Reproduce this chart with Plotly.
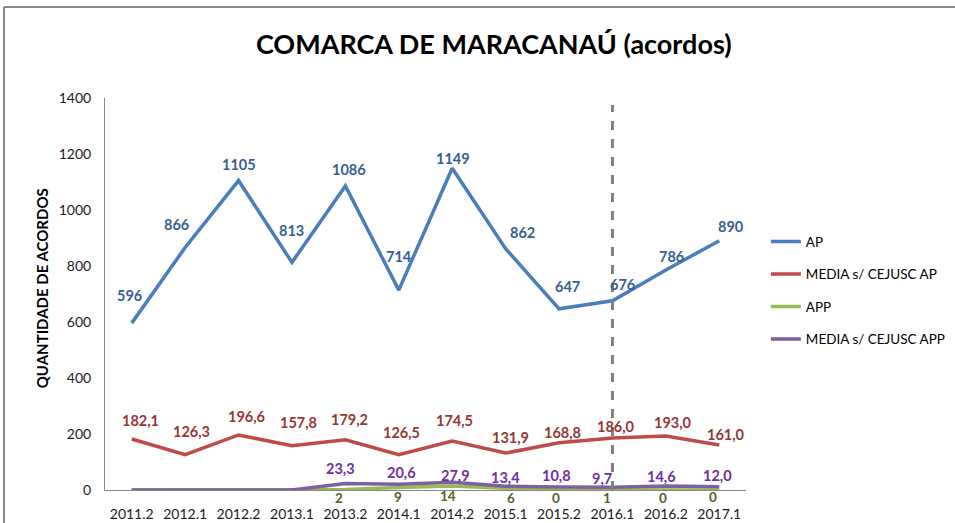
import plotly.graph_objects as go

# ---------------- data ----------------
categories = ["2011.2", "2012.1", "2012.2", "2013.1", "2013.2", "2014.1",
              "2014.2", "2015.1", "2015.2", "2016.1", "2016.2", "2017.1"]
ap = [596, 866, 1105, 813, 1086, 714, 1149, 862, 647, 676, 786, 890]
media_ap = [182.1, 126.3, 196.6, 157.8, 179.2, 126.5, 174.5, 131.9, 168.8, 186.0, 193.0, 161.0]
app = [None, None, None, None, 2, 9, 14, 6, 0, 1, 0, 0]
media_app = [None, None, None, None, 23.3, 20.6, 27.9, 13.4, 10.8, 9.7, 14.6, 12.0]
y_ticks = [0, 200, 400, 600, 800, 1000, 1200, 1400]
divider_category = "2016.1"

# ---------------- label placement (screen px offsets, style only) ----------------
ap_dx = [-2, -9, 0, 0, 4, 0, 1, 17, 8, 10, 6, 12]
ap_dy = [-28, -23, -16, -32, -16, -34, -10, -16, -22, -16, -13, -14]
map_dx = [9, 6, 8, 7, 4, 3, 2, 5, 3, 4, 7, 7]
map_dy = [-19, -23, -18, -23, -20, -22, -21, -16, -10, -11, -13, -10]
app_dx = [0, 0, 0, 0, -6, -1, -4, 5, -3, -5, -3, -6]
app_dy = [0, 0, 0, 0, 9, 10, 10, 10, 8, 8, 8, 7]
mapp_dx = [0, 0, 0, 0, -5, 3, 3, 0, -3, -10, -4, -2]
mapp_dy = [0, 0, 0, 0, -15, -12, -7, -9, -11, -9, -9, -11]

FONT = "Lato"

def fmt_int(v):
    return f"{v:d}"

def fmt_dec(v):
    return f"{v:.1f}".replace(".", ",")

series = [
    ("AP", ap, "#4A7EBB", "#376092", fmt_int, ap_dx, ap_dy, 14.5),
    ("MEDIA s/ CEJUSC AP", media_ap, "#BE4B48", "#953735", fmt_dec, map_dx, map_dy, 14.5),
    ("APP", app, "#98B954", "#4F6228", fmt_int, app_dx, app_dy, 13.5),
    ("MEDIA s/ CEJUSC APP", media_app, "#7D60A0", "#7030A0", fmt_dec, mapp_dx, mapp_dy, 14.5),
]

fig = go.Figure()
annotations = []
for i, (name, vals, lc, tc, fmt, dxs, dys, fs) in enumerate(series):
    yplot = [v if v is not None else 0 for v in vals]  # empty cells shown as zero
    fig.add_trace(go.Scatter(
        x=categories, y=yplot, mode="lines", name=name,
        line=dict(color=lc, width=3.5), cliponaxis=False,
        legendgroup=f"g{i}", hoverinfo="skip",
    ))
    for j, v in enumerate(vals):
        if v is None:
            continue
        annotations.append(dict(
            x=j, y=v, xref="x", yref="y", text=fmt(v),
            showarrow=False, xshift=dxs[j], yshift=-dys[j],
            xanchor="center", yanchor="middle", borderpad=0,
            font=dict(family=FONT, size=fs, color=tc, weight="bold"),
        ))

# y-axis title
annotations.append(dict(
    x=-0.098, y=0.515, xref="paper", yref="paper", text="QUANTIDADE DE ACORDOS",
    textangle=-90, showarrow=False, xanchor="center", yanchor="middle",
    font=dict(family=FONT, size=15, color="#000000", weight="bold"),
))

div_idx = categories.index(divider_category)
shapes = [
    # dashed divider
    dict(type="line", xref="x", yref="paper", x0=div_idx, x1=div_idx,
         y0=0, y1=0.982, line=dict(color="#808080", width=3, dash="dash"), layer="above"),
    # outer frame (top and left)
    dict(type="line", xref="paper", yref="paper", x0=-0.1576, x1=1.4, y0=1.232, y1=1.232,
         line=dict(color="#8A8A8A", width=2)),
    dict(type="line", xref="paper", yref="paper", x0=-0.1576, x1=-0.1576, y0=-0.2, y1=1.232,
         line=dict(color="#8A8A8A", width=2)),
]

fig.update_layout(
    width=955, height=523,
    margin=dict(l=105, r=209, t=98, b=33, autoexpand=False),
    paper_bgcolor="white", plot_bgcolor="white",
    font=dict(family=FONT, color="#404040"),
    title=dict(text="<b>COMARCA DE MARACANAÚ (acordos)</b>", x=0.517, xanchor="center",
               y=1 - 45 / 523, yanchor="middle", yref="container",
               font=dict(family=FONT, size=27, color="#000000")),
    showlegend=True,
    legend=dict(x=1.031, xanchor="left", y=0.673, yanchor="top",
                font=dict(family=FONT, size=13.5, color="#000000"),
                tracegroupgap=12, bgcolor="rgba(0,0,0,0)"),
    annotations=annotations,
    shapes=shapes,
)

fig.update_xaxes(type="category", range=[-0.5, len(categories) - 0.5], automargin=False,
                 showline=True, linecolor="#868686", linewidth=1, showgrid=False,
                 ticks="", ticklabelstandoff=11,
                 tickfont=dict(family=FONT, size=14, color="#1a1a1a"))
fig.update_yaxes(range=[0, 1400], tickvals=y_ticks, showline=True, linecolor="#868686",
                 linewidth=1, showgrid=False, zeroline=False, ticks="", automargin=False,
                 ticklabelstandoff=10,
                 tickfont=dict(family=FONT, size=14, color="#1a1a1a"))

fig.write_html("out.html", config={"displayModeBar": False},
               post_script="document.body.style.margin='0';")
